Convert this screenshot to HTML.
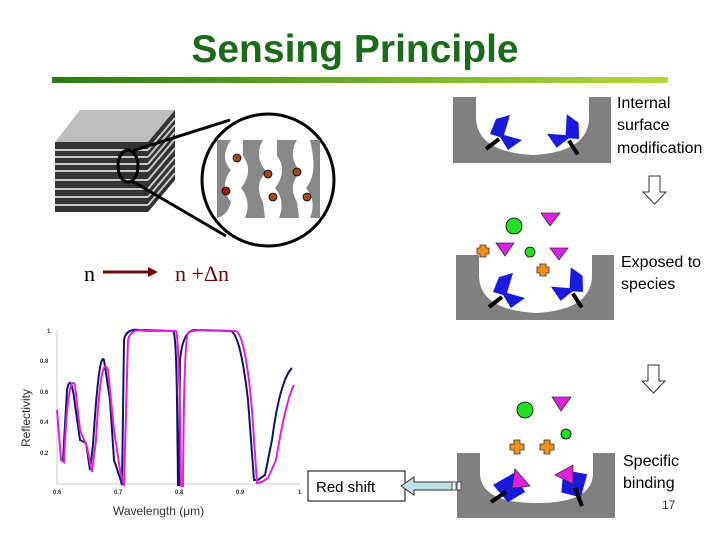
<!DOCTYPE html>
<html><head><style>body{margin:0;background:#fff}svg{display:block}text{font-family:"Liberation Sans",sans-serif}</style></head>
<body>
<svg width="720" height="540" viewBox="0 0 720 540">
<defs>
<linearGradient id="g" x1="0" x2="1"><stop offset="0" stop-color="#2a7a12"/><stop offset="1" stop-color="#b8d83a"/></linearGradient>
<g id="rcp">
<polygon points="-15,3 -9,-12 5,-16 -1,4 17,9 3,19 -5,6" fill="#1a1adc"/>
<line x1="-19" y1="18" x2="-6" y2="8" stroke="#000" stroke-width="4"/>
</g>
</defs>
<text x="355" y="62" font-size="39" font-weight="bold" fill="#1b6b1b" text-anchor="middle">Sensing Principle</text>
<rect x="52" y="77" width="616" height="6" fill="url(#g)"/>

<!-- stack -->
<polygon points="55,142 80,110 175,110 148,142" fill="#bdbdbd"/>
<polygon points="148,142 175,110 175,180 148,212" fill="#333"/>
<rect x="55" y="142" width="93" height="70" fill="#333"/>
<g stroke="#c8c8c8" stroke-width="2">
<line x1="55" y1="150" x2="148" y2="150"/><line x1="55" y1="157" x2="148" y2="157"/><line x1="55" y1="164" x2="148" y2="164"/><line x1="55" y1="171" x2="148" y2="171"/><line x1="55" y1="180" x2="148" y2="180"/><line x1="55" y1="189" x2="148" y2="189"/><line x1="55" y1="197" x2="148" y2="197"/><line x1="55" y1="205" x2="148" y2="205"/>
<line x1="148" y1="150" x2="175" y2="118"/><line x1="148" y1="157" x2="175" y2="125"/><line x1="148" y1="164" x2="175" y2="132"/><line x1="148" y1="171" x2="175" y2="139"/><line x1="148" y1="180" x2="175" y2="148"/><line x1="148" y1="189" x2="175" y2="157"/><line x1="148" y1="197" x2="175" y2="165"/><line x1="148" y1="205" x2="175" y2="173"/>
</g>
<ellipse cx="128" cy="166" rx="10" ry="16" fill="none" stroke="#000" stroke-width="3"/>
<line x1="132" y1="151" x2="230" y2="120" stroke="#000" stroke-width="3"/>
<line x1="132" y1="181" x2="226" y2="236" stroke="#000" stroke-width="3"/>
<circle cx="268" cy="180" r="66" fill="#fff" stroke="#000" stroke-width="3"/>
<g fill="#888">
<path d="M217,140 h14 c-8,12 -8,22 0,30 c-8,10 -8,22 0,32 c-2,8 -6,14 -14,16 z"/>
<path d="M243,140 h20 c-6,10 -6,22 4,32 c-10,8 -10,20 -4,30 l2,16 h-20 c4,-10 4,-20 -4,-30 c8,-10 10,-22 2,-32 z"/>
<path d="M277,140 h20 c-6,10 -6,22 4,32 c-10,8 -10,20 -4,30 l2,16 h-20 c4,-10 4,-20 -4,-30 c8,-10 10,-22 2,-32 z"/>
<path d="M310,140 h10 v78 h-10 c4,-10 4,-20 -4,-30 c8,-10 10,-22 4,-48 z"/>
</g>
<g stroke="#000" stroke-width="0.8" fill="#a0461a">
<circle cx="237" cy="158" r="4"/><circle cx="268" cy="174" r="4"/><circle cx="297" cy="172" r="4"/><circle cx="273" cy="197" r="4"/><circle cx="307" cy="197" r="4"/><circle cx="226" cy="191" r="4" fill="#a01414"/>
</g>
<text x="84" y="281" font-size="22" style="font-family:'Liberation Serif',serif">n</text>
<line x1="103" y1="272" x2="150" y2="272" stroke="#6b0c0c" stroke-width="3"/>
<polygon points="148,267 158,272 148,277" fill="#6b0c0c"/>
<text x="175" y="281" font-size="22" fill="#6b0c0c" style="font-family:'Liberation Serif',serif">n +Δn</text>

<!-- plot -->
<line x1="57" y1="330" x2="57" y2="484" stroke="#ccc"/>
<line x1="57" y1="484" x2="300" y2="484" stroke="#ccc"/>
<g font-size="6" font-weight="bold" fill="#333">
<text x="47" y="333">1</text><text x="40" y="363">0.8</text><text x="40" y="394">0.6</text><text x="40" y="424">0.4</text><text x="40" y="455">0.2</text>
<text x="53" y="494">0.6</text><text x="114" y="494">0.7</text><text x="175" y="494">0.8</text><text x="236" y="494">0.9</text><text x="298" y="494">1</text>
</g>
<text transform="translate(30,447) rotate(-90)" font-size="12" fill="#333">Reflectivity</text>
<text x="113" y="515" font-size="12" fill="#333">Wavelength (μm)</text>
<path d="M63,460 L67,390 Q71,370 75,405 L80,440 L86,443 L90,470 L93,445 Q99,350 104,360 L110,400 L114,460 L120,478 L122,485 L124,340 Q126,328 140,330 L173,331 Q176,331 177,400 L178,485 L179,485 L180,360 Q183,330 195,330 L230,331 Q240,331 248,400 L254,480 L258,480 L265,475 L272,440 Q280,380 292,368" fill="none" stroke="#141464" stroke-width="2"/>
<path d="M57,410 L61,460 L64,462 Q68,370 75,385 L80,430 L87,447 L92,472 L96,440 Q101,350 108,370 L114,430 L120,470 L124,486 L128,340 Q131,328 145,331 L176,331 Q178,331 180,410 L181,486 L183,486 Q184,340 188,333 Q192,330 205,330 L235,331 Q245,331 252,410 L257,483 L262,482 L268,478 L276,460 Q286,400 294,385" fill="none" stroke="#e020e0" stroke-width="2"/>

<!-- well 1 -->
<path d="M453,97 h23 v20 q0,35 57,38 q56,-3 56,-38 v-20 h22 v66 h-158 z" fill="#808080"/>
<use href="#rcp" transform="translate(505,131)"/>
<use href="#rcp" transform="translate(566,131) scale(-1,1) rotate(-20)"/>
<text x="617" y="108" font-size="16">Internal</text>
<text x="617" y="130" font-size="16">surface</text>
<text x="617" y="153" font-size="16">modification</text>
<path d="M649,176 h11 v16 h6 l-11.5,12 l-11.5,-12 h6 z" fill="#fff" stroke="#333"/>

<!-- well 2 -->
<path d="M456,255 h23 v20 q0,35 57,38 q56,-3 56,-38 v-20 h22 v65 h-158 z" fill="#808080"/>
<use href="#rcp" transform="translate(508,289)"/>
<use href="#rcp" transform="translate(570,284) scale(-1,1) rotate(-20)"/>
<circle cx="514" cy="226" r="8" fill="#22dd22" stroke="#000" stroke-width=".8"/>
<circle cx="530" cy="252" r="5" fill="#22dd22" stroke="#000" stroke-width=".8"/>
<g fill="#e020e0" stroke="#333" stroke-width=".8"><polygon points="541,213 560,213 550,226"/><polygon points="496,243 514,243 505,256"/><polygon points="550,248 568,248 559,260"/></g>
<g fill="#f0901e" stroke="#333" stroke-width=".8">
<path d="M480,245 h6 v3 h3 v6 h-3 v3 h-6 v-3 h-3 v-6 h3 z"/>
<path d="M540,264 h6 v3 h3 v6 h-3 v3 h-6 v-3 h-3 v-6 h3 z"/></g>
<text x="621" y="267" font-size="16">Exposed to</text>
<text x="621" y="289" font-size="16">species</text>
<path d="M648,365 h11 v16 h6 l-11.5,12 l-11.5,-12 h6 z" fill="#fff" stroke="#333"/>

<!-- well 3 -->
<path d="M457,453 h23 v20 q0,30 57,30 q56,0 56,-30 v-20 h22 v65 h-158 z" fill="#808080"/>
<g transform="translate(510,488) rotate(-25)"><polygon points="-14,-10 10,-12 12,10 -8,12" fill="#1a1adc"/></g>
<polygon points="515,469 530,486 512,488" fill="#e020e0" stroke="#333" stroke-width=".8"/>
<line x1="491" y1="502" x2="506" y2="492" stroke="#000" stroke-width="4"/>
<g transform="translate(573,484) rotate(20)"><polygon points="-14,-10 10,-14 12,10 -8,12" fill="#1a1adc"/></g>
<polygon points="555,475 573,465 573,484" fill="#e020e0" stroke="#333" stroke-width=".8"/>
<line x1="575" y1="488" x2="582" y2="506" stroke="#000" stroke-width="4"/>
<circle cx="525" cy="410" r="8" fill="#22dd22" stroke="#000" stroke-width=".8"/>
<circle cx="566" cy="434" r="5" fill="#22dd22" stroke="#000" stroke-width=".8"/>
<polygon points="552,397 571,397 561,411" fill="#e020e0" stroke="#333" stroke-width=".8"/>
<g fill="#f0901e" stroke="#333" stroke-width=".8">
<path d="M514,440 h6 v4 h4 v6 h-4 v4 h-6 v-4 h-4 v-6 h4 z"/>
<path d="M544,440 h6 v4 h4 v6 h-4 v4 h-6 v-4 h-4 v-6 h4 z"/></g>
<text x="623" y="466" font-size="16">Specific</text>
<text x="623" y="488" font-size="16">binding</text>
<text x="662" y="509" font-size="12" fill="#333">17</text>

<rect x="308" y="471" width="97" height="30" fill="#fff" stroke="#000"/>
<text x="316" y="492" font-size="15">Red shift</text>
<path d="M401,486 l13,-9 v5 h38 v8 h-38 v5 z" fill="#bfe0e4" stroke="#333"/>
<rect x="452" y="482" width="4" height="8" fill="#fff" stroke="#333" stroke-width=".8"/>
<rect x="457" y="482" width="4" height="8" fill="#fff" stroke="#333" stroke-width=".8"/>
</svg>
</body></html>
